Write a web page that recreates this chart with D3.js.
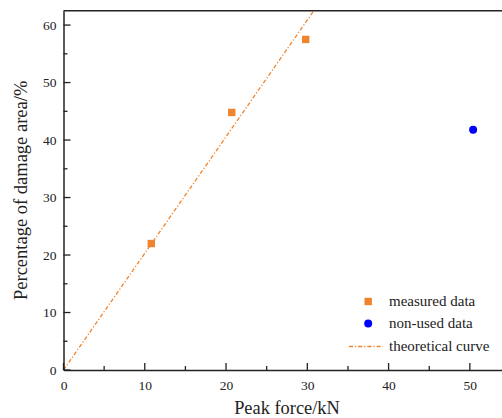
<!DOCTYPE html>
<html>
<head>
<meta charset="utf-8">
<script src="https://cdn.jsdelivr.net/npm/d3@7"></script>
</head>
<body style="margin:0">
<script>
// data
const measuredForce = [10.8, 20.7, 29.8];
const measuredArea = [22.0, 44.8, 57.5];
const unusedForce = [50.4];
const unusedArea = [41.8];
const curveForce = [0, 30.8];
const curveArea = [0, 62.5];
const xTicks = [0, 10, 20, 30, 40, 50];
const yTicks = [0, 10, 20, 30, 40, 50, 60];
const legendLabels = ["measured data", "non-used data", "theoretical curve"];

const W = 502, H = 418;
const orange = "#F0842C";
const blue = "#0000FF";
const serif = "Liberation Serif";

const svg = d3.select("body").append("svg")
    .attr("width", W)
    .attr("height", H)
    .style("display", "block");

// scales (plot runs past the right edge of the picture)
const x = d3.scaleLinear().domain([0, 55]).range([63.5, 510.5]);
const y = d3.scaleLinear().domain([0, 62.5]).range([370, 10.7]);

svg.append("clipPath").attr("id", "plotClip")
    .append("rect")
    .attr("x", x(0)).attr("y", y(62.5))
    .attr("width", x(55) - x(0)).attr("height", y(0) - y(62.5));

// theoretical curve
const line = d3.line()
    .x(d => x(d[0]))
    .y(d => y(d[1]));

svg.append("path")
    .datum(d3.zip(curveForce, curveArea))
    .attr("clip-path", "url(#plotClip)")
    .attr("d", line)
    .attr("fill", "none")
    .attr("stroke", orange)
    .attr("stroke-width", 1.3)
    .attr("stroke-dasharray", "4,2,1.2,2");

// axes, ticks inward
const minorX = d3.range(5, 55, 10);
const minorY = d3.range(5, 62, 10);

const xAxis = svg.append("g")
    .attr("transform", `translate(0, ${y(0)})`)
    .call(d3.axisBottom(x).tickValues(xTicks).tickSize(0).tickPadding(10).tickFormat(d3.format("d")))
    .attr("font-family", serif)
    .attr("font-size", 13.5);
xAxis.select(".domain").attr("stroke", "#222").attr("stroke-width", 1.5);
xAxis.selectAll("text").attr("fill", "#222");

svg.append("g").selectAll("line")
    .data(xTicks.map(v => [v, 7]).concat(minorX.map(v => [v, 4])))
    .enter().append("line")
    .attr("x1", d => x(d[0])).attr("x2", d => x(d[0]))
    .attr("y1", y(0)).attr("y2", d => y(0) - d[1])
    .attr("stroke", "#222").attr("stroke-width", 1.3);

const yAxis = svg.append("g")
    .attr("transform", `translate(${x(0)}, 0)`)
    .call(d3.axisLeft(y).tickValues(yTicks).tickSize(0).tickPadding(7).tickFormat(d3.format("d")))
    .attr("font-family", serif)
    .attr("font-size", 13.5);
yAxis.select(".domain").attr("stroke", "#222").attr("stroke-width", 1.5);
yAxis.selectAll("text").attr("fill", "#222");

svg.append("g").selectAll("line")
    .data(yTicks.map(v => [v, 7]).concat(minorY.map(v => [v, 4])))
    .enter().append("line")
    .attr("x1", x(0)).attr("x2", d => x(0) + d[1])
    .attr("y1", d => y(d[0])).attr("y2", d => y(d[0]))
    .attr("stroke", "#222").attr("stroke-width", 1.3);

// top frame
svg.append("line")
    .attr("x1", x(0)).attr("x2", W)
    .attr("y1", y(62.5)).attr("y2", y(62.5))
    .attr("stroke", "#222").attr("stroke-width", 1.5);

// points
svg.selectAll(".measured")
    .data(d3.zip(measuredForce, measuredArea))
    .enter().append("rect")
    .attr("class", "measured")
    .attr("x", d => x(d[0]) - 3.7)
    .attr("y", d => y(d[1]) - 3.7)
    .attr("width", 7.4).attr("height", 7.4)
    .attr("fill", orange);

svg.selectAll(".unused")
    .data(d3.zip(unusedForce, unusedArea))
    .enter().append("circle")
    .attr("class", "unused")
    .attr("cx", d => x(d[0]))
    .attr("cy", d => y(d[1]))
    .attr("r", 4)
    .attr("fill", blue);

// axis titles
svg.append("text")
    .attr("x", (x(0) + x(55)) / 2)
    .attr("y", 414)
    .attr("text-anchor", "middle")
    .attr("font-family", serif)
    .attr("font-size", 18.4)
    .attr("fill", "#222")
    .text("Peak force/kN");

svg.append("text")
    .attr("transform", "rotate(-90)")
    .attr("x", -(y(0) + y(62.5)) / 2)
    .attr("y", 27)
    .attr("text-anchor", "middle")
    .attr("font-family", serif)
    .attr("font-size", 18.5)
    .attr("fill", "#222")
    .text("Percentage of damage area/%");

// legend
const legend = svg.append("g");
const rows = [301.5, 323.5, 346.5];

legend.append("rect")
    .attr("x", 364.5).attr("y", rows[0] - 3.7)
    .attr("width", 7.4).attr("height", 7.4)
    .attr("fill", orange);
legend.append("circle")
    .attr("cx", 368.2).attr("cy", rows[1]).attr("r", 4)
    .attr("fill", blue);
legend.append("line")
    .attr("x1", 349).attr("x2", 383)
    .attr("y1", rows[2]).attr("y2", rows[2])
    .attr("stroke", orange).attr("stroke-width", 1.3)
    .attr("stroke-dasharray", "4,2,1.2,2");

legend.selectAll(".lbl")
    .data(legendLabels)
    .enter().append("text")
    .attr("class", "lbl")
    .attr("x", 389)
    .attr("y", (d, i) => rows[i] + 4.8)
    .attr("font-family", serif)
    .attr("font-size", 15)
    .attr("fill", "#222")
    .text(d => d);
</script>
</body>
</html>
